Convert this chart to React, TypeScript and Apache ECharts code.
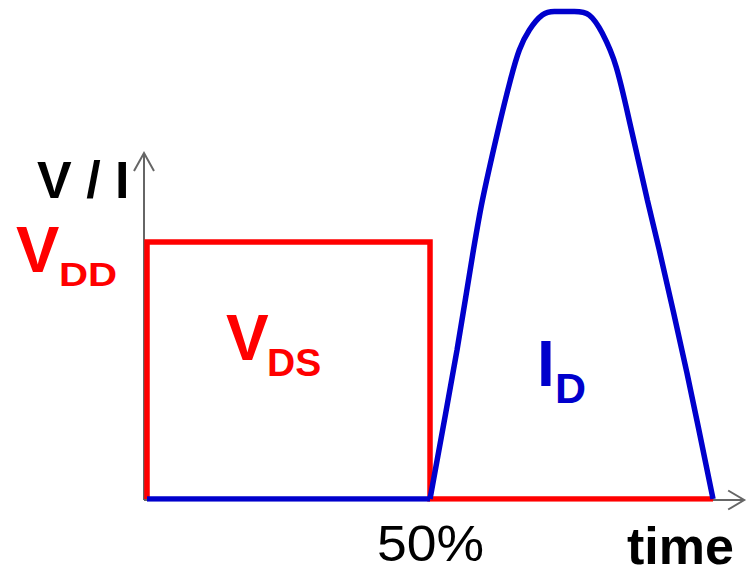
import React, { useEffect, useRef } from "react";
import * as echarts from "echarts";

// Time in % of the switching period, amplitude in units of V_DD
const VDS_WAVE: [number, number][] = [
  [0, 0],
  [0, 1],
  [50, 1],
  [50, 0],
  [100, 0],
];

// Drain current while the switch is off (flat at zero)
const ID_OFF: [number, number][] = [
  [0, 0],
  [50, 0],
];

// Drain current pulse after the 50% point
const ID_PULSE: [number, number][] = [
  [50, 0],
  [54.77, 0.58],
  [57.67, 0.969],
  [59.26, 1.163],
  [61.9, 1.424],
  [64.2, 1.63],
  [65.78, 1.747],
  [67.55, 1.825],
  [69.84, 1.883],
  [71.96, 1.897],
  [75.49, 1.897],
  [78.13, 1.883],
  [80.42, 1.813],
  [82.89, 1.681],
  [85.71, 1.424],
  [88.4, 1.163],
  [90.5, 0.969],
  [95.4, 0.49],
  [100, 0],
];

// Extent of the drawn axis arrows (data units)
const AXIS_X_END = 105.5;
const AXIS_Y_END = 1.346;

const X_MAX = 106;
const Y_MAX = 1.9;

const RED = "#ff0000";
const BLUE = "#0000cc";
const AXIS_GRAY = "#666666";

export default function App() {
  const ref = useRef<HTMLDivElement>(null);

  useEffect(() => {
    if (!ref.current) return;
    const chart = echarts.init(ref.current, null, { renderer: "svg" });

    const font = "Liberation Sans, Arial, sans-serif";

    const axesRenderItem = (_params: any, api: any) => {
      const o = api.coord([0, 0]);
      const ox = o[0] - 3;
      const oy = o[1] + 1;
      const yTop = api.coord([0, AXIS_Y_END])[1];
      const xEnd = api.coord([AXIS_X_END, 0])[0];
      const style = { stroke: AXIS_GRAY, lineWidth: 2, fill: "none" };
      return {
        type: "group",
        children: [
          { type: "line", shape: { x1: ox, y1: oy, x2: ox, y2: yTop }, style },
          {
            type: "polyline",
            shape: { points: [[ox - 10, yTop + 18], [ox, yTop], [ox + 10, yTop + 18]] },
            style,
          },
          { type: "line", shape: { x1: ox, y1: oy, x2: xEnd, y2: oy }, style },
          {
            type: "polyline",
            shape: { points: [[xEnd - 16, oy - 9.5], [xEnd, oy], [xEnd - 16, oy + 9.5]] },
            style,
          },
        ],
      };
    };

    const label = (text: string, x: number, y: number, fill: string, fontSpec: string, scaleX = 1) => ({
      type: "text",
      x,
      y,
      scaleX,
      style: { text, fill, font: `${fontSpec} ${font}`, verticalAlign: "top" },
    });

    chart.setOption({
      animation: false,
      backgroundColor: "#ffffff",
      grid: { left: 147, right: 0, top: 10.7, bottom: 74 },
      xAxis: { type: "value", min: 0, max: X_MAX, show: false },
      yAxis: { type: "value", min: 0, max: Y_MAX, show: false },
      series: [
        {
          type: "custom",
          name: "axes",
          coordinateSystem: "cartesian2d",
          clip: false,
          silent: true,
          data: [[0, 0]],
          renderItem: axesRenderItem,
        },
        {
          type: "line",
          name: "VDS",
          data: VDS_WAVE,
          showSymbol: false,
          lineStyle: { color: RED, width: 5.5, join: "miter", cap: "butt" },
          itemStyle: { color: RED },
        },
        {
          type: "line",
          name: "ID off",
          data: ID_OFF,
          showSymbol: false,
          lineStyle: { color: BLUE, width: 5.5, cap: "butt" },
          itemStyle: { color: BLUE },
        },
        {
          type: "line",
          name: "ID",
          data: ID_PULSE,
          smooth: 0.3,
          showSymbol: false,
          lineStyle: { color: BLUE, width: 5.5, cap: "butt" },
          itemStyle: { color: BLUE },
        },
      ],
      graphic: [
        label("V / I", 37, 154, "#000000", "bold 52px"),
        label("V", 16, 217, RED, "bold 65px"),
        label("DD", 59, 258, RED, "bold 33px", 1.22),
        label("V", 226, 306, RED, "bold 64px"),
        label("DS", 267, 343, RED, "bold 39px"),
        label("I", 537, 332, BLUE, "bold 64px"),
        label("D", 555, 366, BLUE, "bold 43px"),
        label("50%", 377, 519, "#000000", "50px", 1.07),
        label("time", 627, 520, "#000000", "bold 52px"),
      ],
    });

    return () => chart.dispose();
  }, []);

  return (
    <div
      ref={ref}
      style={{ position: "fixed", left: 0, top: 0, width: 747, height: 573, background: "#fff" }}
    />
  );
}
